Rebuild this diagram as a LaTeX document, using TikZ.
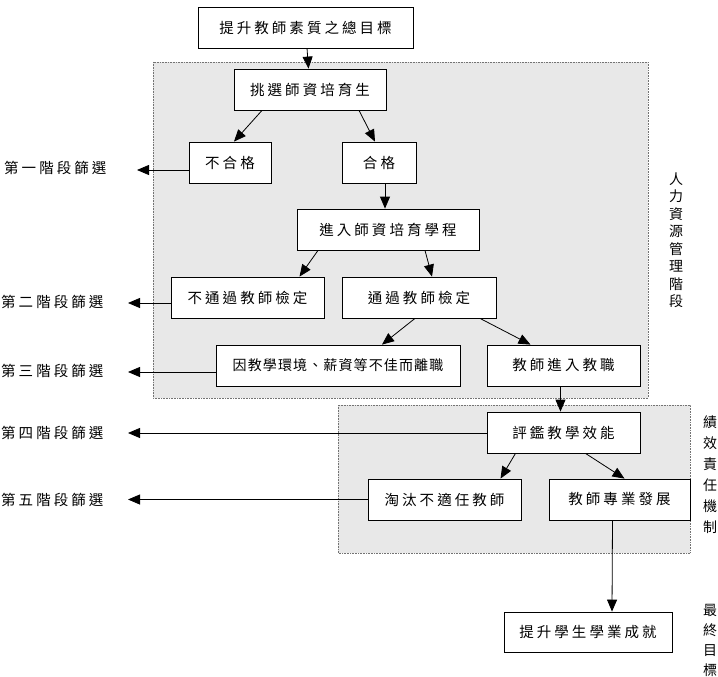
\documentclass[tikz,border=0pt]{standalone}
\usepackage{fontspec}
\newfontfamily\cjk[LetterSpace=21]{Noto Sans CJK TC}
\newfontfamily\cjknarrow[LetterSpace=8]{Noto Sans CJK TC}
\newfontfamily\cjkv{Noto Sans CJK TC}
\usetikzlibrary{arrows.meta}
\begin{document}
\begin{tikzpicture}[x=1pt,y=-1pt,
  box/.style={draw, fill=white, line width=0.8pt, minimum height=41, inner sep=0pt,
              font=\cjk\fontsize{14.5}{16}\selectfont},
  zone/.style={fill=black!9, draw=black!55, densely dotted, line width=0.6pt},
  stage/.style={anchor=west, inner sep=0pt, font=\cjk\fontsize{14.5}{16}\selectfont},
  vlabel/.style={align=center, inner sep=0pt, font=\fontsize{14}{17.5}\selectfont\cjkv},
  arr/.style={line width=0.8pt, -{Triangle[length=12pt,width=10pt]}}]
\useasboundingbox (0,0) rectangle (718,677);
\fill[white] (0,0) rectangle (718,677);

% shaded phase areas
\draw[zone] (153,62) rectangle (648,398);
\draw[zone] (338,405) rectangle (690,553);

% process boxes
\node[box, minimum width=215] (goal)     at (305.5,27.5) {提升教師素質之總目標};
\node[box, minimum width=152] (select)   at (310,89.5)   {挑選師資培育生};
\node[box, minimum width=82]  (fail)     at (230,162.5)  {不合格};
\node[box, minimum width=74]  (pass)     at (379,162.5)  {合格};
\node[box, minimum width=182] (program)  at (388,229.5)  {進入師資培育學程};
\node[box, minimum width=153] (nocert)   at (247.5,297.5){不通過教師檢定};
\node[box, minimum width=154] (cert)     at (419,297.5)  {通過教師檢定};
\node[box, minimum width=244, font=\cjknarrow\fontsize{14}{16}\selectfont] (leave) at (338,365.5) {因教學環境、薪資等不佳而離職};
\node[box, minimum width=153] (teach)    at (563.5,365.5){教師進入教職};
\node[box, minimum width=153] (eval)     at (563.5,432.5){評鑑教學效能};
\node[box, minimum width=153] (dismiss)  at (444.5,499.5){淘汰不適任教師};
\node[box, minimum width=141] (develop)  at (619.5,499.5){教師專業發展};
\node[box, minimum width=168, minimum height=40] (outcome) at (588,632) {提升學生學業成就};

% screening stage labels
\node[stage] (st1) at (4,168) {第一階段篩選};
\node[stage] (st2) at (1,302) {第二階段篩選};
\node[stage] (st3) at (1,371) {第三階段篩選};
\node[stage] (st4) at (1,433) {第四階段篩選};
\node[stage] (st5) at (1,500) {第五階段篩選};
\coordinate (s1) at (137,170);
\coordinate (s2) at (128,303);
\coordinate (s3) at (128,372);
\coordinate (s4) at (128,433);
\coordinate (s5) at (128,499.5);

% phase labels
\node[vlabel] (hr)    at (676,240) {人\\力\\資\\源\\管\\理\\階\\段};
\node[vlabel, font=\fontsize{14}{21}\selectfont\cjkv] (acc) at (710,475) {績\\效\\責\\任\\機\\制};
\node[vlabel, font=\fontsize{14}{20}\selectfont\cjkv] (ult) at (710,640) {最\\終\\目\\標};

% flow
\draw[arr] (goal) -- (select);
\draw[arr] ([xshift=-48]select.south) -- ([xshift=4]fail.north);
\draw[arr] ([xshift=49]select.south) -- ([xshift=-4]pass.north);
\draw[arr] (pass.south -| 385,0) -- (program.north -| 385,0);
\draw[arr] ([xshift=-70]program.south) -- ([xshift=52]nocert.north);
\draw[arr] ([xshift=37]program.south) -- ([xshift=13]cert.north);
\draw[arr] ([xshift=-4]cert.south) -- ([xshift=44]leave.north);
\draw[arr] ([xshift=61]cert.south) -- ([xshift=-33]teach.north);
\draw[arr] ([xshift=-3]teach.south) -- ([xshift=-3]eval.north);
\draw[arr] ([xshift=-48]eval.south) -- ([xshift=56]dismiss.north);
\draw[arr] ([xshift=22]eval.south) -- ([xshift=5]develop.north);
\draw[arr] ([xshift=-7]develop.south) -- ([xshift=24]outcome.north);

% screening exits
\draw[arr] (fail.west |- s1) -- (s1);
\draw[arr] (nocert.west |- s2) -- (s2);
\draw[arr] (leave.west |- s3) -- (s3);
\draw[arr] (eval.west |- s4) -- (s4);
\draw[arr] (dismiss.west |- s5) -- (s5);
\end{tikzpicture}
\end{document}
